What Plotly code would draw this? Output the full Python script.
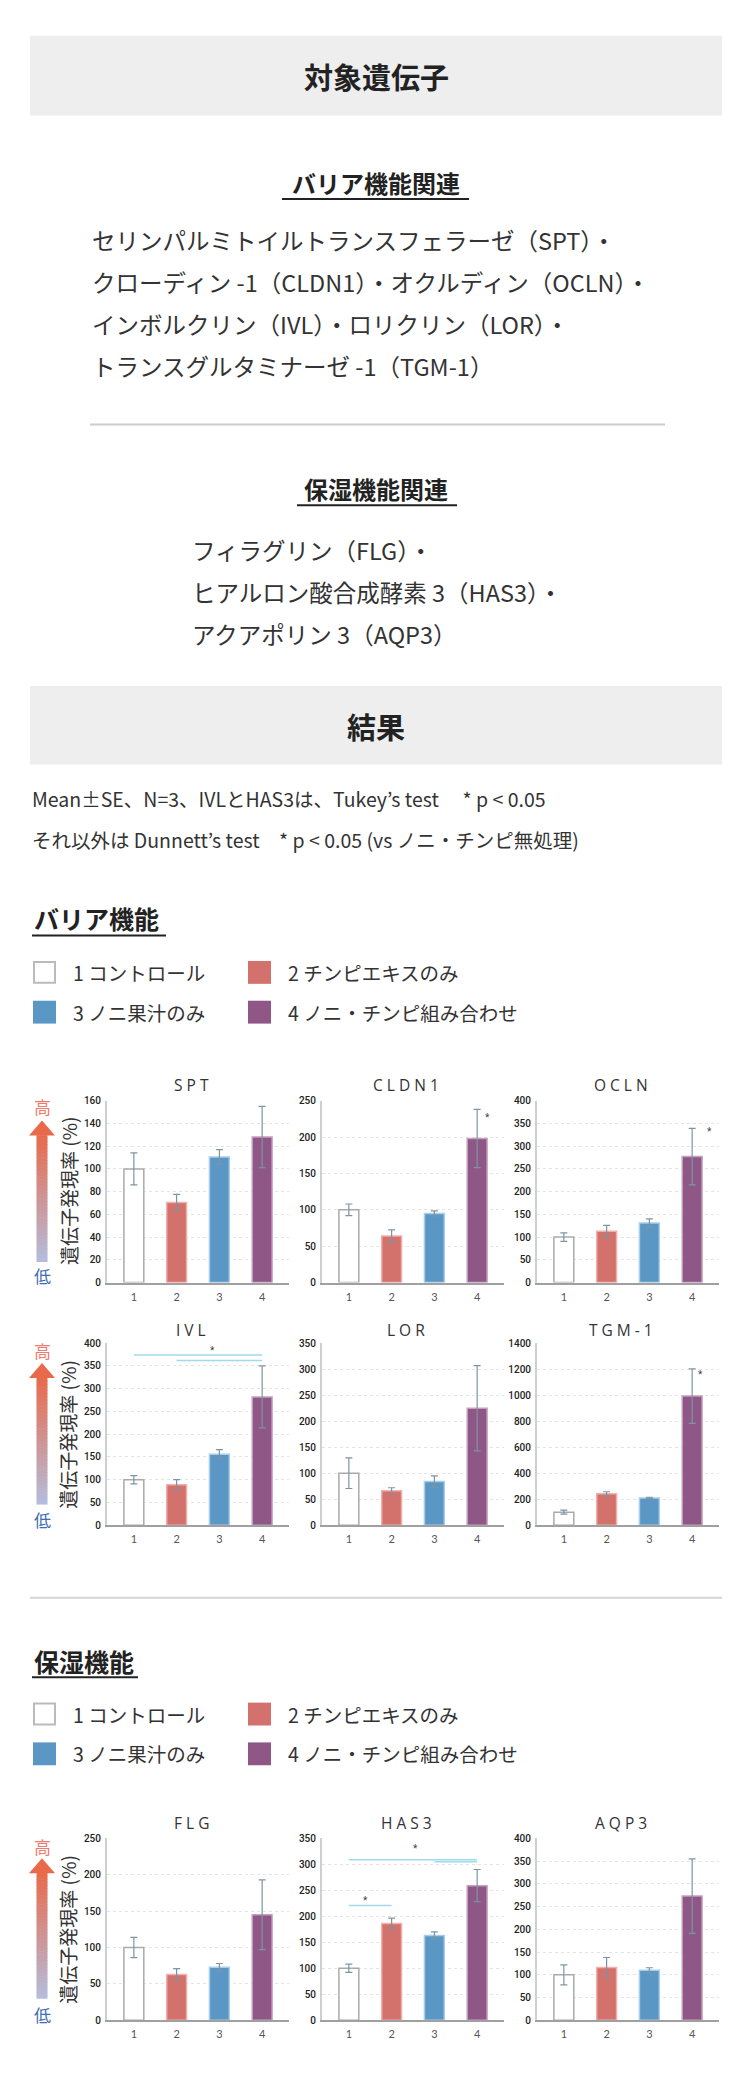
import plotly.graph_objects as go

# ---------------- data ----------------
groups = ["1", "2", "3", "4"]
gene_names = ["SPT", "CLDN1", "OCLN", "IVL", "LOR", "TGM-1", "FLG", "HAS3", "AQP3"]

spt_mean = [100, 70.5, 110.5, 128]
spt_se = [14, 7, 6.5, 27]
cldn1_mean = [100, 64, 95, 198]
cldn1_se = [8, 8.5, 3.5, 40]
ocln_mean = [100, 113, 131, 277]
ocln_se = [9.5, 13, 9, 62]
ivl_mean = [100, 89, 156, 282]
ivl_se = [9, 11, 10, 68]
lor_mean = [100, 66, 84, 225]
lor_se = [29.5, 6, 11, 82]
tgm1_mean = [100, 241, 210, 993]
tgm1_se = [15, 16, 5, 210]
flg_mean = [100, 63, 73, 145]
flg_se = [14, 8, 5, 48]
has3_mean = [100, 186, 163, 259]
has3_se = [8, 10.5, 7, 31]
aqp3_mean = [100, 116, 110, 273]
aqp3_se = [22, 22, 5.5, 82]

y_max = [160, 250, 400, 400, 350, 1400, 250, 350, 400]
y_dtick = [20, 50, 50, 50, 50, 200, 50, 50, 50]

# Dunnett stars: (chart index, x position, y value)
dunnett_stars = [(1, 4.25, 227), (2, 4.4, 333), (5, 4.2, 1161)]
# Tukey brackets: (chart index, from group, to group, y value)
tukey_lines = [(3, 1, 4, 374), (3, 2, 4, 362), (7, 1, 4, 309), (7, 3, 4, 305), (7, 1, 2, 221)]
tukey_stars = [(3, 2.85, 384), (7, 1.4, 231), (7, 2.55, 330)]

legend_labels = ["1 コントロール", "2 チンピエキスのみ", "3 ノニ果汁のみ", "4 ノニ・チンピ組み合わせ"]

barrier_genes = ["セリンパルミトイルトランスフェラーゼ（SPT）・",
                 "クローディン -1（CLDN1）・オクルディン（OCLN）・",
                 "インボルクリン（IVL）・ロリクリン（LOR）・",
                 "トランスグルタミナーゼ -1（TGM-1）"]
moist_genes = ["フィラグリン（FLG）・",
               "ヒアルロン酸合成酵素 3（HAS3）・",
               "アクアポリン 3（AQP3）"]

means = [spt_mean, cldn1_mean, ocln_mean, ivl_mean, lor_mean, tgm1_mean, flg_mean, has3_mean, aqp3_mean]
ses = [spt_se, cldn1_se, ocln_se, ivl_se, lor_se, tgm1_se, flg_se, has3_se, aqp3_se]

# ---------------- styling ----------------
OFF = 8                      # default page body margin
W, H = 750 - 2 * OFF, 2080 - 2 * OFF
JP = "Noto Sans CJK JP"
TXT = "#333333"
fill_colors = ["#ffffff", "#d3716c", "#5b97c5", "#8e5786"]
edge_colors = ["#aaaaaa", "#efb0ae", "#a9cdea", "#c6a0c0"]
ERR = "#7d95a3"
TUKEY = "#9fdbe9"


def fx(x):
    return (x - OFF) / W


def fy(y):
    return 1 - (y - OFF) / H


cols_px = [(107, 289), (322, 504), (537, 719)]
rows_px = [(1101, 1284), (1345, 1528), (1843, 2026)]
title_y = [1085, 1332, 1828]

fig = go.Figure()
layout = dict(width=W, height=H, margin=dict(l=0, r=0, t=0, b=0),
              paper_bgcolor="white", plot_bgcolor="white", showlegend=False)
shapes = []
annotations = []


def add_text(text, x, y, size, color=TXT, anchor="left", weight="normal", family=JP, angle=0):
    annotations.append(dict(text=text, x=fx(x), y=fy(y), xref="paper", yref="paper",
                            xanchor=anchor, yanchor="middle", showarrow=False, textangle=angle,
                            font=dict(family=family, size=size, color=color, weight=weight)))


def add_line(x0, y0, x1, y1, color, width):
    shapes.append(dict(type="line", xref="paper", yref="paper", x0=fx(x0), y0=fy(y0),
                       x1=fx(x1), y1=fy(y1), line=dict(color=color, width=width)))


def add_rect(x0, y0, x1, y1, fill, line_color=None, line_width=0):
    shapes.append(dict(type="rect", xref="paper", yref="paper", x0=fx(x0), y0=fy(y0),
                       x1=fx(x1), y1=fy(y1), fillcolor=fill,
                       line=dict(color=line_color or fill, width=line_width)))


# ---------------- header sections ----------------
add_rect(30, 30, 722, 110, "#eeeeee")
add_text("対象遺伝子", 376, 70, 29, "#222", anchor="center", weight="bold")

add_text("バリア機能関連", 376, 177, 24, "#222", anchor="center", weight="bold")
add_line(282, 194, 469, 194, "#222", 2)
for i, t in enumerate(barrier_genes):
    add_text(t, 90, 235 + i * 42.3, 23.5)

add_line(90, 421, 665, 421, "#cccccc", 2)

add_text("保湿機能関連", 376, 485, 24, "#222", anchor="center", weight="bold")
add_line(297, 502, 457, 502, "#222", 2)
for i, t in enumerate(moist_genes):
    add_text(t, 190, 547 + i * 42.5, 23.5)

add_rect(30, 684, 722, 763, "#eeeeee")
add_text("結果", 376, 724, 29, "#222", anchor="center", weight="bold")

add_text("Mean±SE、N=3、IVLとHAS3は、Tukey’s test　 * p < 0.05", 30, 797, 19.5)
add_text("それ以外は Dunnett’s test　* p < 0.05 (vs ノニ・チンピ無処理)", 30, 838, 19.5)


def section(title, ty, uy, ux1, legend_rows):
    add_text(title, 32, ty, 25, "#222", weight="bold")
    add_line(32, uy, ux1, uy, "#222", 2)
    for k in range(4):
        r, c = divmod(k, 2)
        cy = legend_rows[r]
        sx = 33 if c == 0 else 248
        if k == 0:
            add_rect(sx + 1, cy - 10.5, sx + 22, cy + 10.5, "#ffffff", "#bbbbbb", 2)
        else:
            add_rect(sx, cy - 11.5, sx + 23, cy + 11.5, fill_colors[k])
        add_text(legend_labels[k], sx + 38, cy, 19.5)


section("バリア機能", 917, 935, 166, (972, 1012))
add_line(30, 1601, 722, 1601, "#d5d5d5", 2)
section("保湿機能", 1665, 1681, 138, (1718, 1758))

# ---------------- gradient arrows + y labels ----------------
arrow_rows = [(1121, 1263, 1107, 1277, 1192), (1365, 1507, 1352, 1522, 1437), (1863, 2004, 1851, 2020, 1935)]
top_rgb = (232, 106, 75)
bot_rgb = (180, 189, 221)
for tip, bottom, hi_y, lo_y, lab_y in arrow_rows:
    cx = 42
    base = tip + 15
    shapes.append(dict(type="path", xref="paper", yref="paper",
                       path=f"M {fx(cx)},{fy(tip)} L {fx(cx - 13)},{fy(base)} L {fx(cx + 13)},{fy(base)} Z",
                       fillcolor="rgb(232,106,75)", line=dict(width=0)))
    n = 40
    seg = (bottom - base) / n
    for s in range(n):
        t = (s + 0.5) / n
        col = tuple(round(top_rgb[j] + (bot_rgb[j] - top_rgb[j]) * t) for j in range(3))
        add_rect(cx - 5.5, base + s * seg - 0.3, cx + 5.5, base + (s + 1) * seg + 0.3, "rgb(%d,%d,%d)" % col)
    add_text("高", cx, hi_y, 17, "#ef7b6c", anchor="center")
    add_text("低", cx, lo_y, 17, "#3d6db3", anchor="center")
    add_text("遺伝子発現率 (%)", 68, lab_y, 19, TXT, anchor="center", angle=-90)

# ---------------- charts ----------------
xrng = [1 - 27 / 43, 4 + 27 / 43]
for i in range(9):
    r, c = divmod(i, 3)
    sfx = "" if i == 0 else str(i + 1)
    xa, ya = "x" + sfx, "y" + sfx
    x0, x1 = cols_px[c]
    y0, y1 = rows_px[r]
    layout["xaxis" + sfx] = dict(domain=[fx(x0), fx(x1)], anchor=ya, range=xrng,
                                 tickvals=[1, 2, 3, 4], ticktext=groups, showgrid=False,
                                 zeroline=False, showline=True, linecolor="#a0a0a0", linewidth=2,
                                 ticks="outside", ticklen=3, tickcolor="rgba(0,0,0,0)",
                                 tickfont=dict(family="Lato", size=11, color="#555"), fixedrange=True)
    layout["yaxis" + sfx] = dict(domain=[fy(y1), fy(y0)], anchor=xa, range=[0, y_max[i]],
                                 dtick=y_dtick[i], showgrid=True, gridcolor="#e4e4e4", griddash="dot",
                                 gridwidth=1, zeroline=False, showline=True, linecolor="#cfcfcf",
                                 linewidth=2, ticks="outside", ticklen=2, tickcolor="rgba(0,0,0,0)",
                                 tickfont=dict(family="Roboto", size=10, color="#222", weight=500),
                                 fixedrange=True)
    fig.add_trace(go.Bar(x=[1, 2, 3, 4], y=means[i], width=0.465,
                         marker=dict(color=fill_colors, line=dict(color=edge_colors, width=1.5)),
                         error_y=dict(type="data", array=ses[i], color=ERR, thickness=1.2, width=3.5),
                         xaxis=xa, yaxis=ya, hoverinfo="skip"))
    add_text(" ".join(list(gene_names[i])), (x0 + x1) / 2 - 7, title_y[r], 15.5, "#333",
             anchor="center", family="Open Sans")

for idx, xs, yv in dunnett_stars + tukey_stars:
    sfx = "" if idx == 0 else str(idx + 1)
    annotations.append(dict(text="*", x=xs, y=yv, xref="x" + sfx, yref="y" + sfx, showarrow=False,
                            xanchor="center", yanchor="middle", font=dict(family="Roboto", size=10, color="#444")))
for idx, g0, g1, yv in tukey_lines:
    sfx = "" if idx == 0 else str(idx + 1)
    shapes.append(dict(type="line", xref="x" + sfx, yref="y" + sfx, x0=g0, x1=g1, y0=yv, y1=yv,
                       line=dict(color=TUKEY, width=1.5)))

layout["shapes"] = shapes
layout["annotations"] = annotations
fig.update_layout(**layout)
fig.write_html("out.html")
